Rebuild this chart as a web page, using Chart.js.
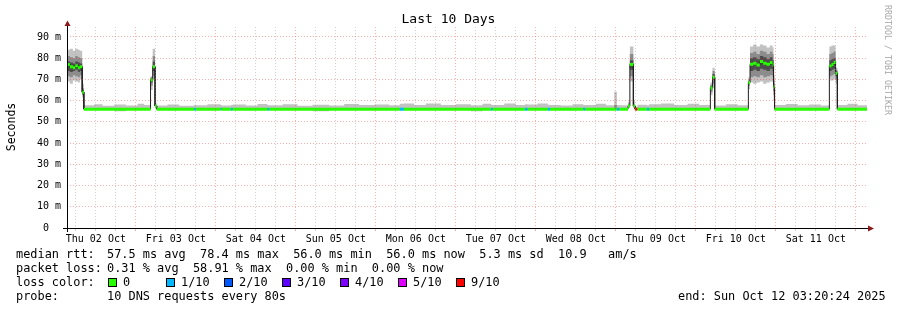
<!DOCTYPE html>
<html>
<head>
<meta charset="utf-8">
<script src="https://cdn.jsdelivr.net/npm/chart.js@4.4.1/dist/chart.umd.min.js"></script>
<style>
  html, body { margin: 0; padding: 0; background: #fff; }
  #wrap { position: relative; width: 897px; height: 310px; overflow: hidden;
          font-family: 'DejaVu Sans Mono', monospace; color: #000; }
  #wrap canvas { position: absolute; left: 0; top: 0; }
  .t { position: absolute; white-space: pre; line-height: 14px; font-size: 11.9px; }
  .box { position: absolute; width: 7px; height: 7px; border: 1px solid #000; }
</style>
</head>
<body>
<div id="wrap">
  <canvas id="c" width="897" height="310"></canvas>
  <div class="t" style="left:0;width:897px;top:12px;text-align:center;font-size:13px;">Last 10 Days</div>
  <div class="t" style="left:-39px;top:120px;width:100px;text-align:center;font-size:11.5px;transform:rotate(-90deg);">Seconds</div>
  <div class="t" style="left:893px;top:5px;font-size:8.3px;line-height:10px;color:#a8a8a8;transform-origin:0 0;transform:rotate(90deg);">RRDTOOL / TOBI OETIKER</div>
  <div class="t" style="left:16px;top:247px;">median rtt:</div>
  <div class="t" style="left:107px;top:247px;">57.5 ms avg  78.4 ms max  56.0 ms min  56.0 ms now  5.3 ms sd  10.9   am/s</div>
  <div class="t" style="left:16px;top:261px;">packet loss:</div>
  <div class="t" style="left:107px;top:261px;">0.31 % avg  58.91 % max  0.00 % min  0.00 % now</div>
  <div class="t" style="left:16px;top:275px;">loss color:</div>
  <div id="legend"></div>
  <div class="t" style="left:16px;top:289px;">probe:</div>
  <div class="t" style="left:107px;top:289px;">10 DNS requests every 80s</div>
  <div class="t" style="left:678px;top:289px;">end: Sun Oct 12 03:20:24 2025</div>
</div>
<script>
// hours since Thu 02 Oct 00:00, graph covers 03:20 Oct 2 .. 03:20 Oct 12
const startTime = 3.34;
const endTime = 243.34;
const dayLabels = ['Thu 02 Oct', 'Fri 03 Oct', 'Sat 04 Oct', 'Sun 05 Oct', 'Mon 06 Oct',
                   'Tue 07 Oct', 'Wed 08 Oct', 'Thu 09 Oct', 'Fri 10 Oct', 'Sat 11 Oct'];

const lossLevels = [0, 1, 2, 3, 4, 5, 9];
const lossLabels = ['0', '1/10', '2/10', '3/10', '4/10', '5/10', '9/10'];
const lossColors = ['#26ff00', '#00b8ff', '#0059ff', '#5e00ff', '#7e00ff', '#dd00ff', '#ff0000'];

// each sample holds its value until the next time
const times = [3.34, 4.2, 5.1, 5.8, 6.6, 7.2, 7.9, 8.4, 11.5, 14.0,
  17.5, 21.0, 24.5, 26.5, 28.4, 29.05, 29.75, 30.25, 33.5, 37.0,
  41.5, 42.0, 45.5, 49.45, 49.75, 52.55, 53.05, 57.0, 60.5, 63.45,
  64.0, 68.0, 72.5, 77.0, 82.0, 86.5, 91.0, 95.5, 100.0, 103.2,
  104.4, 107.5, 111.0, 115.5, 120.0, 124.5, 128.0, 130.55, 131.05, 134.5,
  138.0, 140.75, 141.55, 144.5, 147.55, 148.25, 151.5, 155.0, 158.25, 158.85,
  162.0, 165.0, 167.5, 168.3, 169.05, 171.65, 172.2, 173.25, 173.75, 174.45,
  177.35, 177.95, 181.5, 185.5, 189.5, 193.0, 196.35, 197.0, 197.65, 201.0,
  204.5, 207.75, 208.25, 209.2, 210.2, 211.2, 212.2, 213.2, 214.2, 215.0,
  215.3, 215.6, 219.0, 222.5, 226.0, 229.5, 232.05, 232.7, 233.3, 233.9,
  234.45, 237.5, 240.5];

const median = [77, 76, 75.5, 76.5, 75.5, 76, 64, 56, 56, 56,
  56, 56, 56, 56, 69.7, 76, 57.5, 56, 56, 56,
  56, 56, 56, 56, 56, 56, 56, 56, 56, 56,
  56, 56, 56, 56, 56, 56, 56, 56, 56, 56,
  56, 56, 56, 56, 56, 56, 56, 56, 56, 56,
  56, 56, 56, 56, 56, 56, 56, 56, 56, 56,
  56, 56, 56, 56, 56, 57.5, 77, 57.5, 56, 56,
  56, 56, 56, 56, 56, 56, 66, 71, 56, 56,
  56, 68.5, 77.1, 77.6, 76.8, 78.4, 77.6, 77.1, 78, 76.8,
  66.5, 56, 56, 56, 56, 56, 76.3, 77, 78, 72.9,
  56, 56, 56];

// lost pings out of 10
const lossCount = [0, 0, 0, 0, 0, 0, 0, 0, 0, 0,
  0, 0, 0, 0, 0, 0, 0, 0, 0, 0,
  1, 0, 0, 1, 0, 1, 0, 0, 0, 1,
  0, 0, 0, 0, 0, 0, 0, 0, 0, 1,
  0, 0, 0, 0, 0, 0, 0, 1, 0, 0,
  0, 1, 0, 0, 1, 0, 0, 0, 1, 0,
  0, 0, 0, 1, 0, 0, 0, 0, 9, 0,
  1, 0, 0, 0, 0, 0, 0, 0, 0, 0,
  0, 0, 0, 0, 0, 0, 0, 0, 0, 0,
  0, 0, 0, 0, 0, 0, 0, 0, 0, 0,
  0, 0, 0];

// smoke: outer (min/max), middle and core spreads of the pings
const smokeMin = [69, 68, 69.5, 69, 68.5, 70, 61.5, 55.8, 55.8, 55.8,
  55.0, 55.8, 55.8, 55.8, 65, 70, 56.5, 55.8, 55.8, 55.6,
  55.8, 55.8, 55.8, 55.8, 55.8, 55.8, 55.8, 55.6, 55.8, 55.8,
  55.8, 55.8, 55.8, 55.0, 55.8, 55.8, 55.8, 55.6, 55.8, 55.8,
  55.8, 55.8, 55.6, 55.8, 55.8, 55.0, 55.8, 55.8, 55.8, 55.8,
  55.6, 55.8, 55.8, 55.8, 55.8, 55.8, 55.8, 55.6, 55.8, 55.8,
  55.8, 55.8, 55.8, 55.8, 55.8, 56.5, 69, 56.5, 55.8, 55.8,
  55.8, 55.8, 55.8, 55.6, 55.8, 55.8, 62.5, 66, 55.8, 55.8,
  55.6, 65.5, 68.5, 68, 68.5, 69, 68, 68.5, 69, 68.5,
  60, 55.8, 55.8, 55.6, 55.8, 55.8, 69.5, 69.5, 70, 68,
  55.8, 55.8, 55.8];

const smokeMax = [84, 84.5, 83.5, 84.5, 84, 83.5, 68, 57.8, 58.3, 57.6,
  58.2, 57.7, 58.5, 57.9, 71.5, 84.5, 59, 57.7, 58.2, 57.6,
  58.1, 57.8, 58.3, 57.9, 57.7, 58.0, 58.2, 57.7, 58.4, 57.9,
  57.8, 58.3, 57.6, 58.1, 57.7, 58.4, 57.9, 58.2, 57.8, 58.5,
  58.6, 58.0, 58.7, 57.9, 58.3, 57.8, 58.5, 58.1, 57.9, 58.6,
  58.0, 58.3, 58.2, 58.6, 58.1, 57.9, 57.7, 58.3, 57.9, 58.0,
  58.5, 57.8, 64.2, 57.9, 57.8, 59.5, 85.5, 60, 57, 58.1,
  57.8, 58.3, 58.6, 57.9, 58.5, 58.0, 68.5, 75.5, 57.7, 58.3,
  57.8, 71, 85.5, 86.5, 85.5, 86.5, 86, 85, 86, 85,
  72, 57.9, 58.4, 57.8, 58.2, 57.7, 85.5, 86, 86, 75.5,
  57.9, 58.5, 57.8];

const smokeLo = [71.5, 71, 72, 71.5, 71, 72, 62.5, 56, 56, 56,
  56, 56, 56, 56, 67, 71.5, 57, 56, 56, 56,
  56, 56, 56, 56, 56, 56, 56, 56, 56, 56,
  56, 56, 56, 56, 56, 56, 56, 56, 56, 56,
  56, 56, 56, 56, 56, 56, 56, 56, 56, 56,
  56, 56, 56, 56, 56, 56, 56, 56, 56, 56,
  56, 56, 56, 56, 56, 57, 71.5, 57, 56, 56,
  56, 56, 56, 56, 56, 56, 64, 68, 56, 56,
  56, 67, 71, 71.5, 71, 72, 71, 71.5, 72, 71,
  62.5, 56, 56, 56, 56, 56, 71.5, 72, 72.5, 70,
  56, 56, 56];

const smokeHi = [81, 80.5, 80, 81, 80.5, 80, 66, 56, 56, 56,
  56, 56, 56, 56, 71, 81, 58, 56, 56, 56,
  56, 56, 56, 56, 56, 56, 56, 56, 56, 56,
  56, 56, 56, 56, 56, 56, 56, 56, 56, 56,
  56, 56, 56, 56, 56, 56, 56, 56, 56, 56,
  56, 56, 56, 56, 56, 56, 56, 56, 56, 56,
  56, 56, 58, 56, 56, 58.5, 82, 58.5, 56, 56,
  56, 56, 56, 56, 56, 56, 67.5, 74, 56, 56,
  56, 70, 82.5, 83, 82, 83.5, 83, 82, 83, 82,
  70, 56, 56, 56, 56, 56, 82, 82.5, 83, 74.5,
  56, 56, 56];

const coreLo = [74, 73.5, 74, 74.5, 73.5, 74, 63, 56, 56, 56,
  56, 56, 56, 56, 68.5, 74, 57.2, 56, 56, 56,
  56, 56, 56, 56, 56, 56, 56, 56, 56, 56,
  56, 56, 56, 56, 56, 56, 56, 56, 56, 56,
  56, 56, 56, 56, 56, 56, 56, 56, 56, 56,
  56, 56, 56, 56, 56, 56, 56, 56, 56, 56,
  56, 56, 56, 56, 56, 57.2, 74.5, 57.2, 56, 56,
  56, 56, 56, 56, 56, 56, 65.2, 69.8, 56, 56,
  56, 68, 74, 74.5, 74, 75, 74.5, 74, 75, 74,
  64.5, 56, 56, 56, 56, 56, 74, 74.5, 75, 71.5,
  56, 56, 56];

const coreHi = [78.5, 78, 77.5, 78.5, 78, 77.5, 65, 56, 56, 56,
  56, 56, 56, 56, 70.5, 78.5, 57.8, 56, 56, 56,
  56, 56, 56, 56, 56, 56, 56, 56, 56, 56,
  56, 56, 56, 56, 56, 56, 56, 56, 56, 56,
  56, 56, 56, 56, 56, 56, 56, 56, 56, 56,
  56, 56, 56, 56, 56, 56, 56, 56, 56, 56,
  56, 56, 56, 56, 56, 57.8, 79, 57.8, 56, 56,
  56, 56, 56, 56, 56, 56, 66.8, 72.5, 56, 56,
  56, 69.2, 80, 80.5, 79.5, 81, 80.5, 79.5, 80.5, 79,
  68, 56, 56, 56, 56, 56, 79, 79.5, 80, 74,
  56, 56, 56];

const majorGrid = 'rgba(255, 40, 40, 0.38)';
const minorGrid = 'rgba(140, 140, 140, 0.4)';

// step shape: value i is held from times[i] to times[i+1]
function steps(vals) {
  const pts = [];
  for (let i = 0; i < times.length; i++) {
    const t1 = i + 1 < times.length ? times[i + 1] : endTime;
    pts.push({ x: times[i], y: vals[i] }, { x: t1, y: vals[i] });
  }
  return pts;
}

// short flat blocks of the median, only where loss matches
function lossBlocks(level) {
  const pts = [];
  for (let i = 0; i < times.length; i++) {
    if (lossCount[i] !== level) continue;
    const t1 = i + 1 < times.length ? times[i + 1] : endTime;
    pts.push({ x: times[i], y: median[i] }, { x: t1, y: median[i] }, { x: t1, y: null });
  }
  return pts;
}

function band(lo, hi, color, order) {
  return [
    { data: steps(lo), borderColor: 'rgba(0,0,0,0)', borderWidth: 0, fill: false, order: order },
    { data: steps(hi), borderColor: 'rgba(0,0,0,0)', borderWidth: 0, fill: '-1', backgroundColor: color, order: order }
  ];
}

const datasets = [
  ...band(smokeMin, smokeMax, '#c2c2c2', 10),
  ...band(smokeLo, smokeHi, '#8c8c8c', 9),
  ...band(coreLo, coreHi, '#4c4c4c', 8),
  { data: steps(median), borderColor: '#202020', borderWidth: 1, fill: false, order: 5 }
];
lossLevels.forEach((lv, k) => {
  datasets.push({ data: lossBlocks(lv), borderColor: lossColors[k], borderWidth: 3,
                  borderCapStyle: 'butt', fill: false, order: 1 });
});

// legend boxes for the loss colours
const legend = document.getElementById('legend');
lossLevels.forEach((lv, k) => {
  const x = 108 + k * 58;
  const b = document.createElement('div');
  b.className = 'box';
  b.style.left = x + 'px';
  b.style.top = '278px';
  b.style.background = lossColors[k];
  legend.appendChild(b);
  const t = document.createElement('div');
  t.className = 't';
  t.style.left = (x + 15) + 'px';
  t.style.top = '275px';
  t.textContent = lossLabels[k];
  legend.appendChild(t);
});

const axisArrows = {
  id: 'axisArrows',
  afterDraw(chart) {
    const { ctx, chartArea: a } = chart;
    ctx.save();
    ctx.strokeStyle = '#000';
    ctx.lineWidth = 1;
    ctx.beginPath();
    ctx.moveTo(a.left - 4, a.bottom + 0.5);
    ctx.lineTo(a.right + 2, a.bottom + 0.5);
    ctx.moveTo(a.left + 0.5, a.bottom + 4);
    ctx.lineTo(a.left + 0.5, a.top - 2);
    ctx.stroke();
    ctx.fillStyle = '#8b1a1a';
    ctx.beginPath();
    ctx.moveTo(a.right + 1, a.bottom - 2.5);
    ctx.lineTo(a.right + 7, a.bottom + 0.5);
    ctx.lineTo(a.right + 1, a.bottom + 3.5);
    ctx.closePath();
    ctx.fill();
    ctx.beginPath();
    ctx.moveTo(a.left - 2.5, a.top - 1);
    ctx.lineTo(a.left + 0.5, a.top - 6.5);
    ctx.lineTo(a.left + 3.5, a.top - 1);
    ctx.closePath();
    ctx.fill();
    ctx.restore();
  }
};

const tickFont = { family: 'DejaVu Sans Mono', size: 10 };

new Chart(document.getElementById('c'), {
  type: 'line',
  data: { datasets: datasets },
  options: {
    responsive: false,
    animation: false,
    devicePixelRatio: 1,
    events: [],
    layout: { padding: { top: 27, right: 30, left: 0, bottom: 0 } },
    elements: { point: { radius: 0, hoverRadius: 0 }, line: { tension: 0 } },
    plugins: { legend: { display: false }, tooltip: { enabled: false }, title: { display: false } },
    scales: {
      x: {
        type: 'linear',
        min: startTime,
        max: endTime,
        afterBuildTicks: s => {
          const tk = [];
          for (let h = 6; h <= 240; h += 6) tk.push({ value: h });
          s.ticks = tk;
        },
        afterFit: s => { s.height = 82; },
        grid: {
          z: 1,
          color: c => (c.tick && c.tick.value % 24 === 0 ? majorGrid : minorGrid),
          tickColor: c => (c.tick && c.tick.value % 24 === 0 ? majorGrid : minorGrid),
          tickLength: 3,
          borderDash: [1, 2]
        },
        border: { display: false, dash: [1, 2] },
        ticks: {
          autoSkip: false, maxRotation: 0, minRotation: 0, padding: 2,
          color: '#000', font: tickFont,
          callback: v => (v % 24 === 12 ? dayLabels[(v - 12) / 24] : '')
        }
      },
      y: {
        min: 0,
        max: 94.7,
        afterBuildTicks: s => {
          const tk = [];
          for (let v = 0; v <= 90; v += 5) tk.push({ value: v });
          s.ticks = tk;
        },
        afterFit: s => { s.width = 67; },
        grid: {
          z: 1,
          drawTicks: false,
          color: c => (c.tick && c.tick.value % 10 === 0 ? majorGrid : minorGrid),
          borderDash: [1, 2]
        },
        border: { display: false, dash: [1, 2] },
        ticks: {
          padding: 6, color: '#000', font: tickFont,
          callback: v => (v === 0 ? '0  ' : (v % 10 === 0 ? v + ' m' : ''))
        }
      }
    }
  },
  plugins: [axisArrows]
});
</script>
</body>
</html>
